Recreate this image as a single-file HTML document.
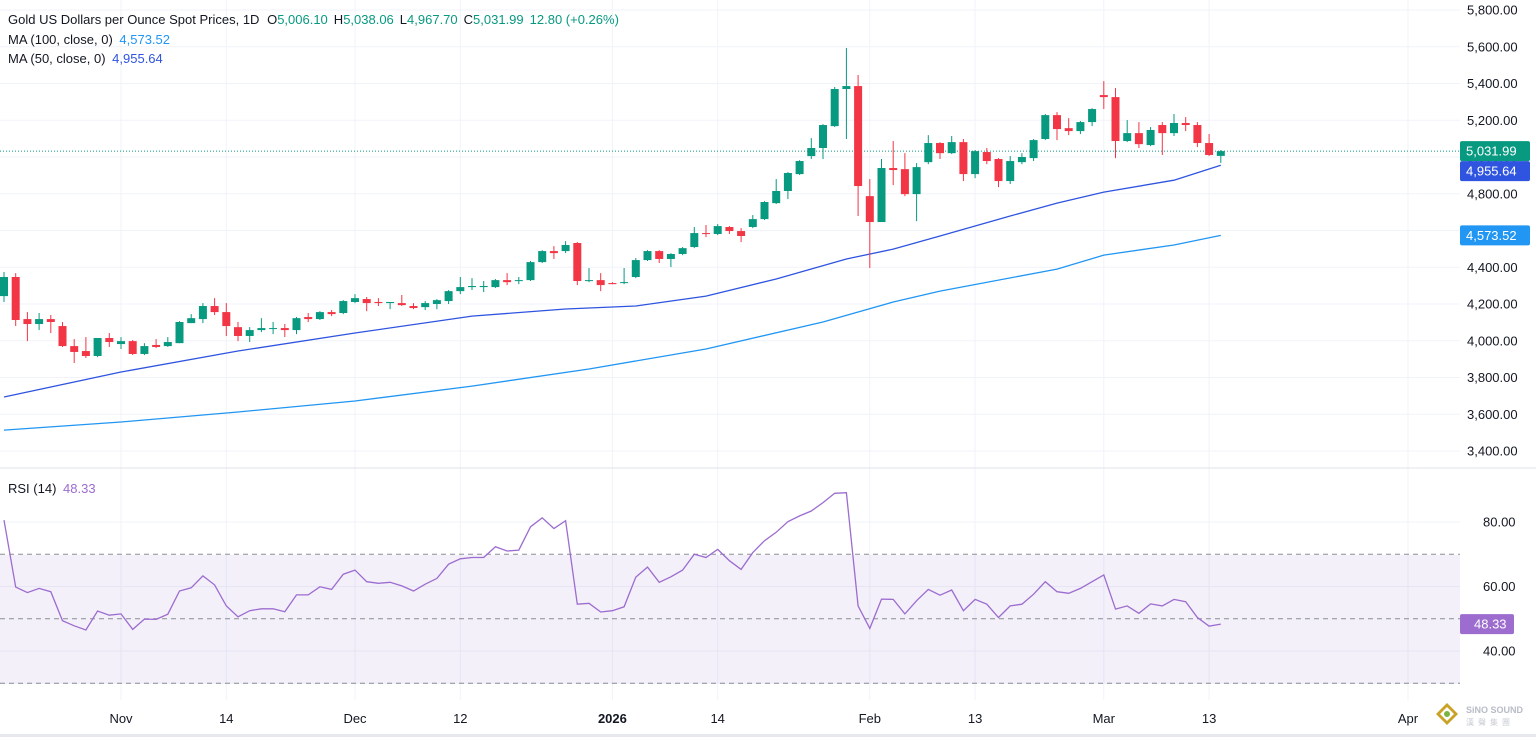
<!DOCTYPE html>
<html><head><meta charset="utf-8">
<style>
html,body{margin:0;padding:0;background:#fff;}
svg{display:block;font-family:"Liberation Sans","Noto Sans CJK SC",sans-serif;}
</style></head>
<body>
<svg id="chart" width="1536" height="737" viewBox="0 0 1536 737" xmlns="http://www.w3.org/2000/svg">
<rect x="0" y="0" width="1536" height="737" fill="#ffffff"/>
<g id="grid"></g>
<rect x="0" y="555" width="1460" height="129" fill="#7e57c2" fill-opacity="0.09"/>
<g id="marks"></g>
<g id="axes"></g>
<g font-size="13">
<text x="8" y="24" fill="#131722">Gold US Dollars per Ounce Spot Prices, 1D <tspan dx="4">O</tspan><tspan fill="#089981">5,006.10</tspan><tspan dx="6">H</tspan><tspan fill="#089981">5,038.06</tspan><tspan dx="6">L</tspan><tspan fill="#089981">4,967.70</tspan><tspan dx="6">C</tspan><tspan fill="#089981">5,031.99</tspan><tspan dx="6" fill="#089981">12.80 (+0.26%)</tspan></text>
<text x="8" y="44" fill="#131722">MA (100, close, 0) <tspan dx="3" fill="#2196f3">4,573.52</tspan></text>
<text x="8" y="63" fill="#131722">MA (50, close, 0) <tspan dx="3" fill="#2f54e0">4,955.64</tspan></text>
<text x="8" y="493" fill="#131722">RSI (14) <tspan dx="3" fill="#9c6ccf">48.33</tspan></text>
</g>
<g>
<polygon points="1447,703 1458,714 1447,725 1436,714" fill="#c9a227"/>
<polygon points="1447,707 1454,714 1447,721 1440,714" fill="#fff"/>
<circle cx="1447" cy="714" r="3" fill="#7cb342"/>
<text x="1466" y="713" font-size="9" font-weight="bold" fill="#b8bcc6">SiNO SOUND</text>
<text x="1466" y="725" font-size="8" fill="#c8ccd4" letter-spacing="4">漢聲集團</text>
</g>
<rect x="0" y="734" width="1536" height="3" fill="#e6e8ee"/>
</svg>
<script>
const opens=[4243,4347,4118,4091,4118,4080,3971,3944,3917,4015,3982,3998,3928,3977,3971,3987,4096,4118,4189,4156,4074,4026,4058,4064,4069,4058,4129,4118,4156,4151,4211,4227,4211,4205,4205,4189,4183,4200,4216,4270,4292,4292,4292,4330,4325,4330,4428,4488,4488,4532,4325,4330,4314,4314,4347,4439,4488,4445,4472,4510,4586,4581,4619,4597,4619,4662,4749,4815,4907,5005,5049,5168,5370,5386,4787,4646,4940,4934,4798,4972,5076,5021,5081,4907,5027,4989,4869,4972,4994,5098,5228,5157,5141,5190,5337,5326,5087,5130,5065,5174,5130,5185,5174,5076,5006];
const highs=[4374,4368,4156,4151,4140,4102,4009,4020,4015,4042,4020,4004,3987,4009,4020,4107,4145,4205,4232,4205,4102,4074,4123,4102,4091,4129,4151,4161,4167,4221,4254,4238,4232,4211,4249,4205,4216,4227,4276,4347,4341,4325,4336,4368,4347,4434,4493,4515,4542,4537,4396,4368,4319,4396,4450,4493,4493,4477,4510,4619,4630,4635,4624,4613,4684,4760,4880,4918,4983,5103,5179,5381,5593,5446,4880,4989,5087,5021,4967,5119,5081,5114,5098,5038,5049,4994,5005,5021,5098,5234,5244,5212,5196,5266,5413,5375,5201,5190,5163,5190,5234,5217,5190,5125,5038];
const lows=[4211,4080,3998,4058,4042,3966,3879,3906,3911,3966,3955,3922,3922,3960,3966,3987,4096,4096,4140,4026,3998,3993,4047,4036,4020,4036,4102,4113,4134,4145,4205,4161,4189,4172,4189,4172,4167,4172,4200,4254,4276,4265,4287,4303,4308,4325,4423,4445,4477,4303,4319,4270,4308,4308,4341,4434,4423,4401,4466,4504,4564,4575,4581,4537,4613,4657,4744,4771,4902,4989,4989,5163,5098,4679,4396,4646,4847,4787,4651,4961,4989,5016,4869,4885,4961,4836,4853,4961,4978,5092,5092,5119,5125,5168,5261,4994,5081,5049,5059,5011,5114,5141,5054,5005,4968];
const closes=[4347,4113,4091,4118,4102,3971,3939,3917,4015,3993,3998,3928,3971,3966,3993,4102,4123,4189,4156,4080,4026,4058,4069,4069,4058,4123,4118,4156,4145,4216,4232,4205,4205,4211,4194,4178,4205,4221,4270,4292,4298,4298,4330,4319,4330,4428,4488,4477,4521,4325,4330,4303,4308,4319,4439,4488,4445,4472,4504,4586,4581,4624,4597,4570,4662,4755,4815,4913,4978,5049,5174,5370,5386,4842,4646,4940,4929,4798,4945,5076,5021,5081,4907,5032,4978,4869,4978,5000,5092,5228,5152,5141,5190,5261,5326,5087,5130,5070,5147,5130,5185,5174,5076,5011,5032];
const rsiValues=[80.6,59.8,58.1,59.4,58.4,49.4,47.8,46.5,52.4,51.1,51.5,46.7,49.9,49.8,51.4,58.6,59.6,63.3,60.5,54.0,50.6,52.5,53.1,53.1,52.2,57.4,57.4,59.9,59.1,63.8,65.1,61.5,61.0,61.3,60.2,58.6,60.7,62.5,66.9,68.6,69.0,69.0,72.3,71.0,71.3,78.5,81.3,78.0,80.4,54.5,54.8,52.1,52.5,53.7,62.9,66.0,61.3,63.0,65.1,70.0,69.0,71.5,68.0,65.3,70.5,74.2,76.8,80.1,81.9,83.4,86.0,88.9,89.1,54.0,47.0,56.1,56.0,51.5,55.6,59.1,57.3,58.9,52.5,56.0,54.5,50.4,54.0,54.5,57.6,61.5,58.4,57.9,59.4,61.5,63.6,53.0,54.0,51.7,54.6,54.0,56.0,55.3,50.4,47.7,48.33];
const ma50Idx=[0,10,20,30,40,48,54,60,66,72,76,80,86,90,94,100,104];
const ma50Vals=[3694,3830,3944,4042,4134,4173,4189,4243,4336,4445,4499,4570,4679,4749,4809,4874,4955.64];
const ma100Idx=[0,10,20,30,40,50,60,70,76,80,90,94,100,104];
const ma100Vals=[3514,3558,3612,3672,3753,3846,3955,4102,4211,4270,4390,4466,4521,4573.52];
const priceTicks=[5800,5600,5400,5200,5000,4800,4600,4400,4200,4000,3800,3600,3400];
const rsiTicks=[80,60,40];
const rsiBands=[70,50,30];
const xLabels=["Nov","14","Dec","12","2026","14","Feb","13","Mar","13","Apr"];
const xLabelIdx=[10,19,30,39,52,61,74,83,94,103,120];
const lastClose=5031.99, lastMA50=4955.64, lastMA100=4573.52, lastRSI=48.33;

const NS="http://www.w3.org/2000/svg";
function X(i){return 4+i*11.7;}
function PY(p){return 10+(5800-p)/200*36.75;}
function RY(v){return 522+(80-v)*3.225;}
function mk(tag,attrs,parent){const e=document.createElementNS(NS,tag);for(const k in attrs)e.setAttribute(k,attrs[k]);parent.appendChild(e);return e;}
const grid=document.getElementById('grid'),marks=document.getElementById('marks'),axes=document.getElementById('axes');

priceTicks.forEach(p=>{const l=mk('line',{x1:0,x2:1460,y1:PY(p),y2:PY(p),stroke:'#f0f3fa','stroke-width':1},grid);

});
rsiTicks.forEach(v=>{const l=mk('line',{x1:0,x2:1460,y1:RY(v),y2:RY(v),stroke:'#f0f3fa','stroke-width':1},grid);

});
xLabelIdx.forEach(i=>{const l=mk('line',{x1:X(i),x2:X(i),y1:0,y2:700,stroke:'#f0f3fa','stroke-width':1},grid);

});
const sep=mk('line',{x1:0,x2:1536,y1:468,y2:468,stroke:'#e0e3eb','stroke-width':1},grid);



rsiBands.forEach(v=>{const l=mk('line',{x1:0,x2:1460,y1:RY(v),y2:RY(v),stroke:'#8a8d96','stroke-width':1,'stroke-dasharray':'5 4'},marks);

});

function linePath(idx,vals){return idx.map((i,k)=>(k?'L':'M')+X(i).toFixed(1)+' '+PY(vals[k]).toFixed(1)).join(' ');}
const ma100=mk('path',{d:linePath(ma100Idx,ma100Vals),fill:'none',stroke:'#2196f3','stroke-width':1.3},marks);


const ma50=mk('path',{d:linePath(ma50Idx,ma50Vals),fill:'none',stroke:'#2f54e0','stroke-width':1.3},marks);



const cl=mk('line',{x1:0,x2:1460,y1:PY(lastClose),y2:PY(lastClose),stroke:'#089981','stroke-width':1,'stroke-dasharray':'1 2'},marks);



for(let i=0;i<opens.length;i++){
 const up=closes[i]>=opens[i];const col=up?'#089981':'#f23645';
 const g=mk('g',{},marks);
 
 
 const x=X(i);
 mk('line',{x1:x,x2:x,y1:PY(highs[i]),y2:PY(lows[i]),stroke:col,'stroke-width':1},g);
 const top=PY(Math.max(opens[i],closes[i])),bot=PY(Math.min(opens[i],closes[i]));
 mk('rect',{x:x-4,y:top,width:8,height:Math.max(1,bot-top),fill:col},g);
}

const rp=rsiValues.map((v,i)=>(i?'L':'M')+X(i).toFixed(1)+' '+RY(v).toFixed(1)).join(' ');
const rl=mk('path',{d:rp,fill:'none',stroke:'#9c6ccf','stroke-width':1.3},marks);



priceTicks.forEach(p=>{const t=mk('text',{x:1467,y:PY(p)+4.5,'font-size':13,fill:'#131722'},axes);t.textContent=p.toLocaleString('en-US',{minimumFractionDigits:2});

});
rsiTicks.forEach(v=>{const t=mk('text',{x:1483,y:RY(v)+4.5,'font-size':13,fill:'#131722'},axes);t.textContent=v.toFixed(2);

});
xLabels.forEach((s,k)=>{const t=mk('text',{x:X(xLabelIdx[k]),y:723,'font-size':13,fill:'#131722','text-anchor':'middle','font-weight':s==='2026'?'bold':'normal'},axes);t.textContent=s;

});

function tag(y,val,bg,name){const g=mk('g',{},axes);
 
 
 mk('rect',{x:1460,y:y-10,width:70,height:20,fill:bg,rx:2},g);
 const t=mk('text',{x:1466,y:y+4.5,'font-size':13,fill:'#fff'},g);t.textContent=val;}
tag(PY(lastClose),lastClose.toLocaleString('en-US',{minimumFractionDigits:2}),'#089981','last-price-tag');
tag(PY(lastClose)+20,lastMA50.toLocaleString('en-US',{minimumFractionDigits:2}),'#2f54e0','ma50-tag');
tag(PY(lastMA100),lastMA100.toLocaleString('en-US',{minimumFractionDigits:2}),'#2196f3','ma100-tag');
(function(){const g=mk('g',{},axes);
 
 
 mk('rect',{x:1460,y:RY(lastRSI)-10,width:54,height:20,fill:'#9c6ccf',rx:2},g);
 const t=mk('text',{x:1474,y:RY(lastRSI)+4.5,'font-size':13,fill:'#fff'},g);t.textContent=lastRSI.toFixed(2);})();
</script>
</body></html>
